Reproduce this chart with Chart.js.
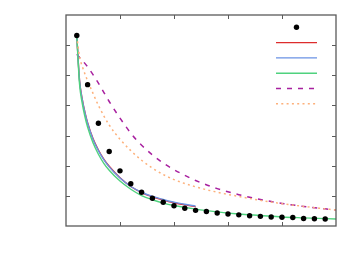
<!DOCTYPE html>
<html>
<head>
<meta charset="utf-8">
<script src="https://cdn.jsdelivr.net/npm/chart.js@4"></script>
<style>
  html, body { margin: 0; padding: 0; background: #fff; }
  #wrap { width: 363px; height: 275px; }
</style>
</head>
<body>
<div id="wrap"><canvas id="plot" width="363" height="275"></canvas></div>
<script>
// measured points
const obsX = [1, 2, 3, 4, 5, 6, 7, 8, 9, 10, 11, 12, 13, 14, 15, 16, 17, 18, 19, 20, 21, 22, 23, 24];
const obsY = [6.32, 4.69, 3.41, 2.47, 1.83, 1.40, 1.12, 0.92, 0.79, 0.67, 0.59, 0.52, 0.48, 0.43, 0.40, 0.37, 0.34, 0.32, 0.30, 0.29, 0.28, 0.25, 0.24, 0.23];

// red and blue fits (stop at x = 12)
const shortX = [1, 1.25, 1.5, 1.75, 2, 2.5, 3, 3.5, 4, 5, 6, 7, 8, 9, 10, 11, 12];
const redY = [6.30, 4.85, 4.22, 3.78, 3.43, 2.90, 2.52, 2.22, 1.98, 1.60, 1.31, 1.11, 0.97, 0.86, 0.77, 0.70, 0.64];
const blueY = [6.30, 4.83, 4.20, 3.76, 3.41, 2.88, 2.50, 2.20, 1.96, 1.59, 1.31, 1.12, 0.98, 0.88, 0.79, 0.72, 0.66];

// green fit (full range)
const greenX = [1, 1.25, 1.5, 1.75, 2, 2.5, 3, 3.5, 4, 5, 6, 7, 8, 9, 10, 12, 14, 16, 18, 20, 22, 25];
const greenY = [6.30, 4.72, 4.08, 3.63, 3.28, 2.76, 2.38, 2.08, 1.85, 1.49, 1.22, 1.01, 0.87, 0.76, 0.68, 0.56, 0.47, 0.40, 0.35, 0.30, 0.27, 0.23];

// dashed / dotted curves
const purpleX = [1, 2, 3, 4, 5, 6, 7, 8, 9, 10, 11, 12, 14, 16, 18, 20, 22, 25];
const purpleY = [5.70, 5.28, 4.74, 4.13, 3.58, 3.08, 2.68, 2.36, 2.09, 1.87, 1.68, 1.51, 1.24, 1.04, 0.88, 0.75, 0.65, 0.53];
const orangeX = [1, 1.25, 1.5, 2, 2.5, 3, 4, 5, 6, 7, 8, 9, 10, 11, 12, 14, 16, 18, 20, 22, 25];
const orangeY = [6.30, 5.62, 5.30, 4.82, 4.40, 4.00, 3.35, 2.88, 2.50, 2.18, 1.92, 1.71, 1.54, 1.41, 1.30, 1.12, 0.98, 0.85, 0.74, 0.65, 0.53];

const xTicks = [5, 10, 15, 20];
const yTicks = [1, 2, 3, 4, 5, 6];

const pts = (xs, ys) => xs.map((x, i) => ({ x: x, y: ys[i] }));

const lineSet = (label, xs, ys, color, dash, width, order) => ({
  label: label,
  data: pts(xs, ys),
  showLine: true,
  borderColor: color,
  backgroundColor: color,
  borderWidth: width,
  borderDash: dash,
  pointRadius: 0,
  cubicInterpolationMode: "monotone",
  order: order,
});

// frame with inward ticks on all four sides
const framePlugin = {
  id: "frame",
  afterDatasetsDraw(chart) {
    const ctx = chart.ctx;
    const a = chart.chartArea;
    const xs = chart.scales.x;
    const ys = chart.scales.y;
    ctx.save();
    ctx.strokeStyle = "#5a5a5a";
    ctx.lineWidth = 1.3;
    ctx.strokeRect(a.left, a.top, a.right - a.left, a.bottom - a.top);
    ctx.lineWidth = 1;
    ctx.beginPath();
    xTicks.forEach((v) => {
      const px = Math.round(xs.getPixelForValue(v)) + 0.5;
      ctx.moveTo(px, a.bottom); ctx.lineTo(px, a.bottom - 4);
      ctx.moveTo(px, a.top); ctx.lineTo(px, a.top + 4);
    });
    yTicks.forEach((v) => {
      const py = Math.round(ys.getPixelForValue(v)) + 0.5;
      ctx.moveTo(a.left, py); ctx.lineTo(a.left + 4, py);
      ctx.moveTo(a.right, py); ctx.lineTo(a.right - 4, py);
    });
    ctx.stroke();
    ctx.restore();
  },
};

// legend samples (no label text in the original)
const keyPlugin = {
  id: "key",
  afterDraw(chart) {
    const ctx = chart.ctx;
    const a = chart.chartArea;
    const x0 = a.right - 60, x1 = a.right - 19;
    ctx.save();
    chart.data.datasets.forEach((ds, i) => {
      const y = a.top + 12.3 + i * 15.3;
      if (!ds.showLine) {
        ctx.fillStyle = ds.backgroundColor;
        ctx.beginPath();
        ctx.arc((x0 + x1) / 2, y, ds.pointRadius, 0, Math.PI * 2);
        ctx.fill();
      } else {
        ctx.strokeStyle = ds.borderColor;
        ctx.lineWidth = ds.borderWidth;
        ctx.setLineDash(ds.borderDash || []);
        ctx.beginPath();
        ctx.moveTo(x0, y); ctx.lineTo(x1, y);
        ctx.stroke();
      }
    });
    ctx.restore();
  },
};

new Chart(document.getElementById("plot"), {
  type: "scatter",
  data: {
    datasets: [
      {
        label: "data",
        data: pts(obsX, obsY),
        showLine: false,
        pointRadius: 2.7,
        backgroundColor: "#000",
        borderColor: "#000",
        borderWidth: 0,
        order: 0,
      },
      lineSet("fit 1", shortX, redY, "#dd2c2c", [], 1.4, 4),
      lineSet("fit 2", shortX, blueY, "#6a92e4", [], 1.4, 3),
      lineSet("fit 3", greenX, greenY, "#4fd27e", [], 1.4, 2),
      lineSet("model A", purpleX, purpleY, "#a8209f", [5, 6], 1.5, 5),
      lineSet("model B", orangeX, orangeY, "#fdb07a", [2, 3.3], 1.5, 1),
    ],
  },
  options: {
    responsive: false,
    animation: false,
    layout: { padding: { left: 66, right: 27, top: 15, bottom: 49 } },
    plugins: { legend: { display: false }, tooltip: { enabled: false } },
    scales: {
      x: { type: "linear", min: 0, max: 25, display: false },
      y: { type: "linear", min: 0, max: 7, display: false },
    },
  },
  plugins: [framePlugin, keyPlugin],
});
</script>
</body>
</html>
